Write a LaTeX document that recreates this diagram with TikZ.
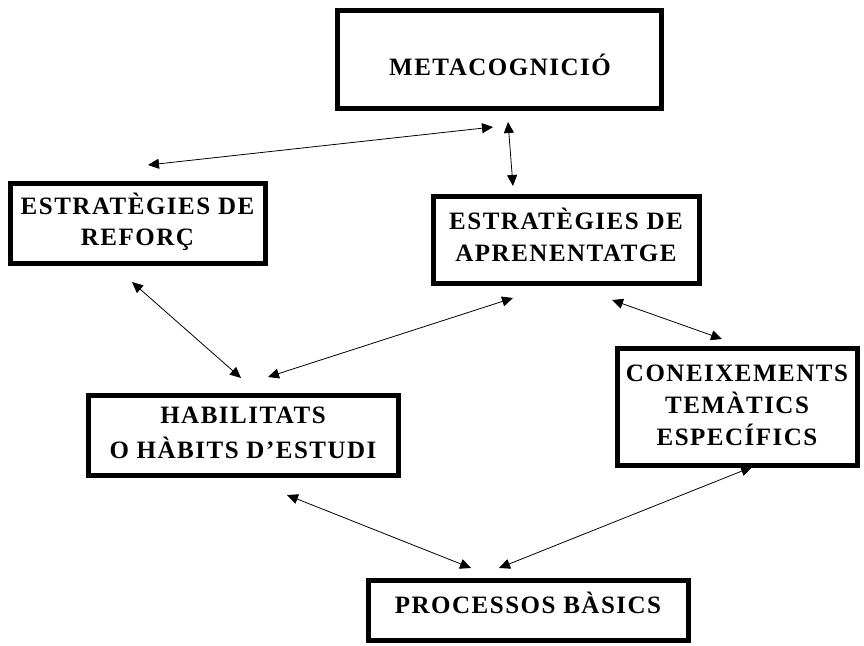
\documentclass[tikz,border=0pt]{standalone}
\usepackage{fontspec}
\setmainfont{Liberation Serif}[LetterSpace=6]
\usetikzlibrary{arrows.meta}
\begin{document}
\begin{tikzpicture}[x=1pt,y=-1pt,
  box/.style={draw=black,line width=5pt,inner sep=0pt},
  txt/.style={font=\fontsize{25}{31}\selectfont\bfseries,align=center,inner sep=0pt},
  link/.style={line width=0.8pt,{Triangle[length=11pt,width=10pt]}-{Triangle[length=11pt,width=10pt]}}]
\useasboundingbox (0,0) rectangle (864,645);
\fill[white] (0,0) rectangle (864,645);
% boxes
\node[box,minimum width=324pt,minimum height=98pt] (meta) at (499,59) {};
\node[txt] (metat) at (500,65) {METACOGNICIÓ};
\node[box,minimum width=255pt,minimum height=80pt] (reforc) at (137.5,223) {};
\node[txt] (reforct) at (137.5,222) {ESTRATÈGIES DE\\REFORÇ};
\node[box,minimum width=266pt,minimum height=87pt] (apren) at (566,239.5) {};
\node[txt,font=\fontsize{25}{32}\selectfont\bfseries] (aprent) at (566,235) {ESTRATÈGIES DE\\APRENENTATGE};
\node[box,minimum width=240pt,minimum height=117pt] (conei) at (737,406.5) {};
\node[txt,font=\fontsize{25}{32}\selectfont\bfseries] (coneit) at (737,405) {CONEIXEMENTS\\TEMÀTICS\\ESPECÍFICS};
\node[box,minimum width=310pt,minimum height=80pt] (habil) at (243,435) {};
\node[txt,font=\fontsize{25}{35}\selectfont\bfseries] (habilt) at (243,433) {HABILITATS\\O HÀBITS D’ESTUDI};
\node[box,minimum width=320pt,minimum height=60pt] (proc) at (528,610) {};
\node[txt] (proct) at (528,603) {PROCESSOS BÀSICS};
% connector end points
\coordinate (a1) at (148,165); \coordinate (b1) at (493,127);
\coordinate (a2) at (508,122); \coordinate (b2) at (513,186);
\coordinate (a3) at (132,282); \coordinate (b3) at (241,378);
\coordinate (a4) at (268,377); \coordinate (b4) at (513,298);
\coordinate (a5) at (612,300); \coordinate (b5) at (722,339);
\coordinate (a6) at (287,495); \coordinate (b6) at (471,568);
\coordinate (a7) at (499,568); \coordinate (b7) at (752,467);
\draw[link] (a1) -- (b1);
\draw[link] (a2) -- (b2);
\draw[link] (a3) -- (b3);
\draw[link] (a4) -- (b4);
\draw[link] (a5) -- (b5);
\draw[link] (a6) -- (b6);
\draw[link] (a7) -- (b7);
\end{tikzpicture}
\end{document}
